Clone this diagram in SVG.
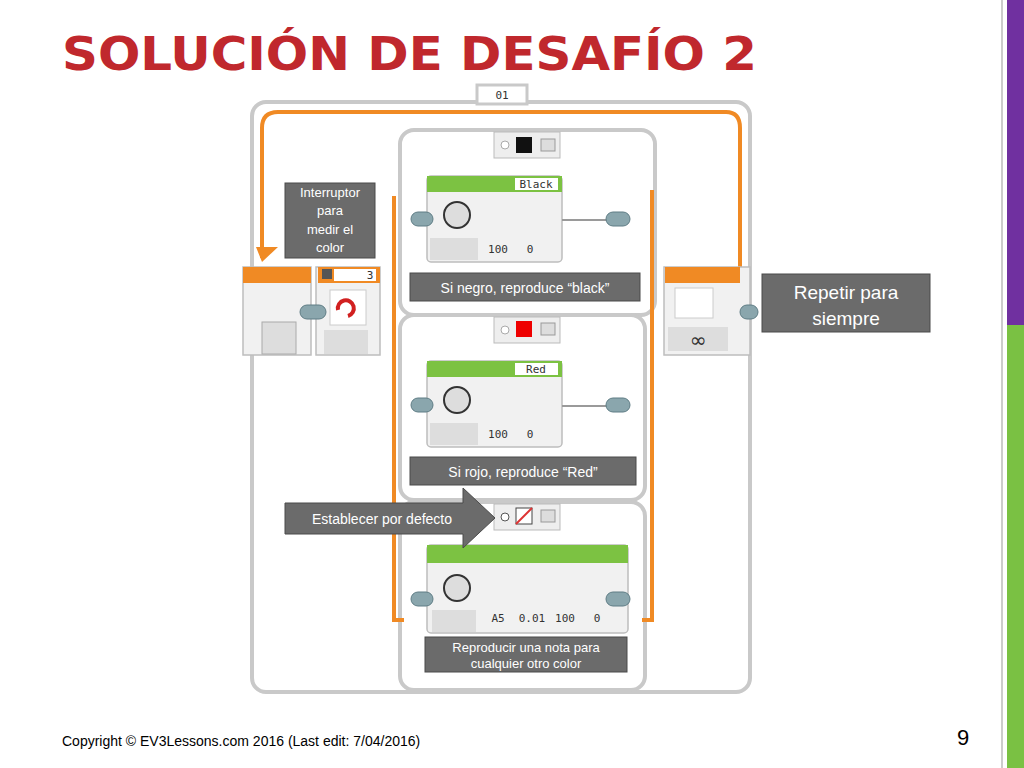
<svg xmlns="http://www.w3.org/2000/svg" width="1024" height="768" viewBox="0 0 1024 768">
<style>
.cap{fill:#6b6b6b;stroke:#4a4a4a;stroke-width:1}
.ct{font-family:"Liberation Sans",Arial,sans-serif;fill:#fff;text-anchor:middle}
.frame{fill:#fff;stroke:#c9c9c9;stroke-width:4}
.or{fill:none;stroke:#f08a24;stroke-width:4}
.blk{fill:#f1f1f1;stroke:#bdbdbd;stroke-width:1.5}
.grn{fill:#7cc242}
.lbl{font-family:"DejaVu Sans Mono",monospace;font-size:11px;fill:#333;text-anchor:middle}
.plug{fill:#8aa6ad;stroke:#5f7d85;stroke-width:1}
</style>
<rect width="1024" height="768" fill="#fff"/>
<line x1="1002" y1="0" x2="1002" y2="768" stroke="#999" stroke-width="1"/>
<rect x="1007" y="0" width="17" height="325" fill="#7030a0"/>
<rect x="1007" y="325" width="17" height="443" fill="#7ac143"/>
<text x="62" y="70" font-family="DejaVu Sans,sans-serif" font-weight="bold" font-size="46" fill="#c0282d" textLength="695" lengthAdjust="spacingAndGlyphs">SOLUCIÓN DE DESAFÍO 2</text>
<g id="program">
<rect class="frame" x="252" y="102" width="498" height="590" rx="14"/>
<rect x="477" y="85" width="50" height="19" fill="#fff" stroke="#c9c9c9" stroke-width="3"/>
<text x="502" y="99" class="lbl" font-size="12">01</text>
<path class="or" d="M262 258 V128 Q262 112 278 112 H726 Q740 112 740 128 V268"/>
<path d="M256 247 L278 247 L262 262 Z" fill="#f08a24"/>
<rect class="frame" x="400" y="130" width="255" height="185" rx="14"/>
<rect class="frame" x="400" y="315" width="245" height="185" rx="14"/>
<rect class="frame" x="400" y="502" width="245" height="188" rx="14"/>
<path class="or" d="M394 196 V620 H404 M652 190 V620 H642"/>
<g id="start"><rect class="blk" x="243" y="267" width="68" height="88"/><rect x="243" y="267" width="68" height="16" fill="#f08a24"/><rect x="262" y="322" width="34" height="32" fill="#ddd" stroke="#aaa"/></g>
<g id="switch"><rect class="blk" x="316" y="267" width="64" height="88"/><rect x="318" y="267" width="62" height="16" fill="#f08a24"/><rect x="334" y="269" width="42" height="12" fill="#fff"/><text x="370" y="279" class="lbl" font-size="10">3</text><rect x="322" y="269" width="10" height="10" fill="#555"/><rect x="330" y="290" width="36" height="35" fill="#fff" stroke="#ccc"/><path d="M338 310 a8 8 0 1 1 10 6" fill="none" stroke="#d12020" stroke-width="4"/><rect x="324" y="330" width="44" height="24" fill="#ddd"/></g>
<g id="cases">
<rect x="494" y="132" width="66" height="26" fill="#eee" stroke="#bbb"/><rect x="516" y="137" width="16" height="16" fill="#111"/><rect x="541" y="139" width="14" height="12" fill="#ddd" stroke="#999"/><circle cx="505" cy="145" r="4" fill="#fff" stroke="#aaa"/>
<rect x="494" y="317" width="66" height="26" fill="#eee" stroke="#bbb"/><rect x="516" y="321" width="16" height="16" fill="#e00"/><rect x="541" y="323" width="14" height="12" fill="#ddd" stroke="#999"/><circle cx="505" cy="330" r="4" fill="#fff" stroke="#aaa"/>
<rect x="494" y="504" width="66" height="26" fill="#eee" stroke="#bbb"/><rect x="516" y="508" width="16" height="16" fill="#fff" stroke="#444"/><line x1="516" y1="524" x2="532" y2="508" stroke="#d33" stroke-width="2"/><rect x="541" y="510" width="14" height="12" fill="#ddd" stroke="#999"/><circle cx="505" cy="517" r="4" fill="#fff" stroke="#555"/>
</g>
<g id="sound1"><rect class="blk" x="427" y="176" width="135" height="86" rx="4"/><rect class="grn" x="427" y="176" width="135" height="16"/><rect x="515" y="178" width="43" height="12" fill="#fff"/><text x="536" y="188" class="lbl" font-size="10">Black</text><circle cx="457" cy="215" r="13" fill="#ddd" stroke="#333" stroke-width="2"/><rect x="430" y="238" width="48" height="22" fill="#ddd"/><text x="498" y="253" class="lbl">100</text><text x="530" y="253" class="lbl">0</text></g>
<g id="sound2"><rect class="blk" x="427" y="361" width="135" height="86" rx="4"/><rect class="grn" x="427" y="361" width="135" height="16"/><rect x="515" y="363" width="43" height="12" fill="#fff"/><text x="536" y="373" class="lbl" font-size="10">Red</text><circle cx="457" cy="400" r="13" fill="#ddd" stroke="#333" stroke-width="2"/><rect x="430" y="423" width="48" height="22" fill="#ddd"/><text x="498" y="438" class="lbl">100</text><text x="530" y="438" class="lbl">0</text></g>
<g id="sound3"><rect class="blk" x="427" y="545" width="201" height="88" rx="4"/><rect class="grn" x="427" y="545" width="201" height="18"/><circle cx="457" cy="588" r="13" fill="#ddd" stroke="#333" stroke-width="2"/><rect x="432" y="610" width="44" height="22" fill="#ddd"/><text x="498" y="622" class="lbl">A5</text><text x="532" y="622" class="lbl">0.01</text><text x="565" y="622" class="lbl">100</text><text x="597" y="622" class="lbl">0</text></g>
<g id="end"><rect class="blk" x="664" y="267" width="86" height="88"/><rect x="665" y="267" width="75" height="16" fill="#f08a24"/><rect x="675" y="288" width="38" height="30" fill="#fff" stroke="#ccc"/><rect x="668" y="327" width="60" height="24" fill="#ddd"/><text x="698" y="347" font-family="DejaVu Sans,sans-serif" font-size="20" text-anchor="middle" fill="#333">∞</text></g>
</g>
<g id="connectors" stroke="#9a9a9a" stroke-width="2">
<line x1="562" y1="220" x2="620" y2="220"/><line x1="562" y1="406" x2="620" y2="406"/>
<rect class="plug" x="411" y="212" width="22" height="14" rx="7"/><rect class="plug" x="606" y="212" width="24" height="14" rx="7"/>
<rect class="plug" x="411" y="398" width="22" height="14" rx="7"/><rect class="plug" x="606" y="398" width="24" height="14" rx="7"/>
<rect class="plug" x="411" y="592" width="22" height="14" rx="7"/><rect class="plug" x="606" y="592" width="24" height="14" rx="7"/>
<rect class="plug" x="300" y="305" width="26" height="14" rx="7"/><rect class="plug" x="740" y="305" width="18" height="14" rx="7" fill="#4aa0d8"/>
</g>
<g id="callouts">
<rect class="cap" x="285" y="183" width="90" height="75"/><text class="ct" font-size="13"><tspan x="330" y="197">Interruptor</tspan><tspan x="330" y="215">para</tspan><tspan x="330" y="234">medir el</tspan><tspan x="330" y="252">color</tspan></text>
<rect class="cap" x="410" y="273" width="230" height="28"/><text class="ct" x="525" y="293" font-size="14">Si negro, reproduce “black”</text>
<rect class="cap" x="410" y="457" width="226" height="28"/><text class="ct" x="523" y="477" font-size="14">Si rojo, reproduce “Red”</text>
<rect class="cap" x="762" y="274" width="168" height="58"/><text class="ct" font-size="19"><tspan x="846" y="299">Repetir para</tspan><tspan x="846" y="325">siempre</tspan></text>
<path class="cap" d="M285 503 H463 V488 L495 518 L463 548 V534 H285 Z"/><text class="ct" x="382" y="524" font-size="14">Establecer por defecto</text>
<rect class="cap" x="425" y="637" width="202" height="35"/><text class="ct" font-size="13"><tspan x="526" y="652">Reproducir una nota para</tspan><tspan x="526" y="668">cualquier otro color</tspan></text>
</g>
<text x="62" y="746" font-family="Liberation Sans,Arial,sans-serif" font-size="14" fill="#000">Copyright © EV3Lessons.com 2016 (Last edit: 7/04/2016)</text>
<text x="957" y="745" font-family="Liberation Sans,Arial,sans-serif" font-size="22" fill="#000">9</text>
</svg>
